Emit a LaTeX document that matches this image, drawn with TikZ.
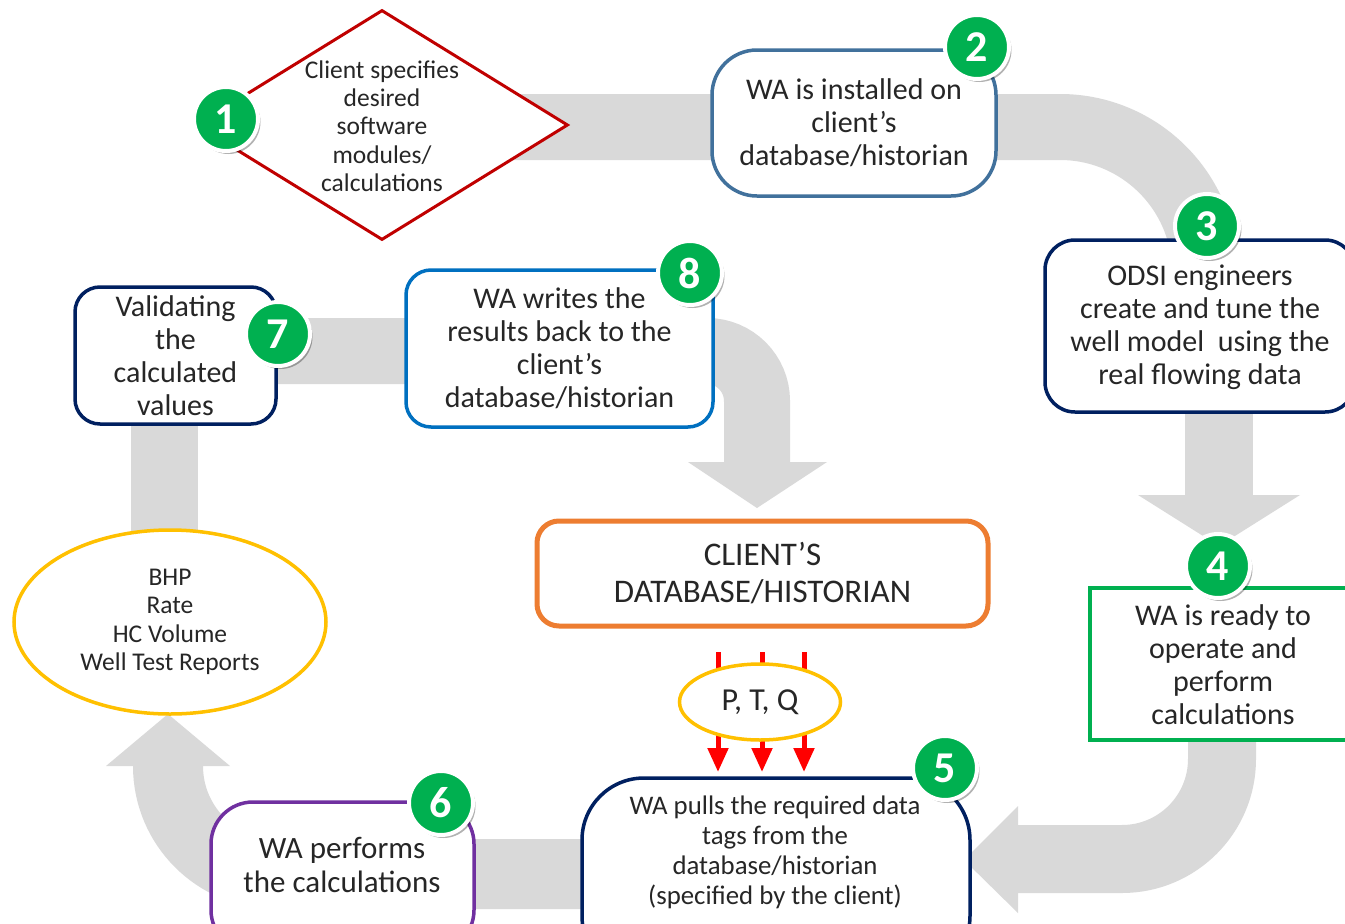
\documentclass[tikz,border=0pt]{standalone}
\usepackage{fontspec}
\setmainfont{Carlito}
\usetikzlibrary{arrows.meta,shapes.geometric,shadows}
\definecolor{bandgray}{HTML}{D9D9D9}
\definecolor{txt}{HTML}{262626}
\definecolor{badgegreen}{HTML}{00B050}
\definecolor{dred}{HTML}{C00000}
\definecolor{steel}{HTML}{41719C}
\definecolor{navy}{HTML}{002060}
\definecolor{boxgreen}{HTML}{00B050}
\definecolor{purp}{HTML}{7030A0}
\definecolor{bblue}{HTML}{0070C0}
\definecolor{orng}{HTML}{ED7D31}
\definecolor{gold}{HTML}{FFC000}
\definecolor{rred}{HTML}{FF0000}
\newcommand{\fsz}[2]{\fontsize{#1}{#2}\selectfont}
\begin{document}
\begin{tikzpicture}[x=1pt,y=-1pt,
  band/.style={draw=bandgray, line width=66pt},
  bandhead/.style={fill=bandgray},
  box/.style={fill=white, line width=3.5pt, align=center, text=txt, font=\fsz{30}{33}, inner sep=0pt},
  txtnode/.style={align=center, text=txt, inner sep=0pt},
  badge/.style={circle, fill=badgegreen, draw=white, line width=4pt, minimum size=64pt, inner sep=0pt,
    text=white, font=\bfseries\fsz{44}{44},
    drop shadow={shadow xshift=2.5pt, shadow yshift=-3pt, fill=black, opacity=0.3}},
  redarrow/.style={draw=rred, line width=5pt, -{Triangle[width=20pt,length=24pt]}}
]
\clip (0,0) rectangle (1345,924);
\fill[white] (0,0) rectangle (1345,924);

% ---------- gray flow bands ----------
\coordinate (b1s) at (450,127);
\coordinate (b1c) at (1205,127);
\coordinate (b1e) at (1205,300);
\draw[band, rounded corners=145pt] (b1s) -- (b1c) -- (b1e);

\coordinate (b2s) at (1219,400);
\coordinate (b2e) at (1219,497);
\draw[band, line width=68pt] (b2s) -- (b2e);
\fill[bandhead] (1138,495) -- (1300,495) -- (1219,546) -- cycle;

\coordinate (b3s) at (1222,700);
\coordinate (b3c) at (1222,859);
\coordinate (b3e) at (1016,859);
\draw[band, line width=68pt, rounded corners=100pt] (b3s) -- (b3c) -- (b3e);
\fill[bandhead] (1018,806) -- (1018,913) -- (964,860) -- cycle;

\coordinate (b4s) at (650,874);
\coordinate (b4c) at (168,874);
\coordinate (b4e) at (168,752);
\draw[band, line width=70pt, rounded corners=108pt] (b4s) -- (b4c) -- (b4e);
\fill[bandhead] (106,766) -- (230,766) -- (168,714) -- cycle;

\fill[bandgray] (131,400) rectangle (198,560);

\coordinate (b6s) at (250,351);
\coordinate (b6c) at (757,351);
\coordinate (b6e) at (757,465);
\draw[band, rounded corners=50pt] (b6s) -- (b6c) -- (b6e);
\fill[bandhead] (688,462) -- (827,462) -- (757,508) -- cycle;

% ---------- red arrows ----------
\coordinate (r1s) at (718,652); \coordinate (r1e) at (718,772);
\coordinate (r2s) at (762,652); \coordinate (r2e) at (762,772);
\coordinate (r3s) at (804,652); \coordinate (r3e) at (804,772);
\draw[redarrow] (r1s) -- (r1e);
\draw[redarrow] (r2s) -- (r2e);
\draw[redarrow] (r3s) -- (r3e);

% ---------- shapes ----------
\node[diamond, draw=dred, fill=white, line width=3pt, minimum width=372pt, minimum height=230pt, inner sep=0pt] (n1) at (382,125) {};
\node[txtnode, font=\fsz{25.5}{28.3}] (t1) at (382,126) {Client specifies\\desired\\software\\modules/\\calculations};

\node[box, draw=steel, minimum width=284pt, minimum height=146pt, rounded corners=45pt] (n2) at (854,123)
  {WA is installed on\\client’s\\database/historian};

\node[box, draw=navy, minimum width=310pt, minimum height=172pt, rounded corners=30pt, text width=300pt] (n3) at (1200,326) {};
\node[txtnode, font=\fsz{30}{33}] (t3) at (1200,327) {ODSI engineers\\create and tune the\\well model\ \ using the\\real flowing data};

\node[box, draw=boxgreen, minimum width=264pt, minimum height=152pt] (n4) at (1222,664) {};
\node[txtnode, font=\fsz{30}{33}] (t4) at (1223,665) {WA is ready to\\operate and\\perform\\calculations};

\node[box, draw=navy, minimum width=388pt, minimum height=200pt, rounded corners=62pt] (n5) at (776,878) {};
\node[txtnode, font=\fsz{26.8}{30}] (t5) at (775,852) {WA pulls the required data\\tags from the\\database/historian\\(specified by the client)};

\node[box, draw=purp, minimum width=263pt, minimum height=150pt, rounded corners=42pt] (n6) at (342.5,877) {};
\node[txtnode, font=\fsz{31}{34}] (t6) at (342,865) {WA performs\\the calculations};

\node[box, draw=navy, minimum width=201pt, minimum height=137pt, rounded corners=25pt] (n7) at (175.5,355.5)
  {Validating\\the\\calculated\\values};

\node[box, draw=bblue, minimum width=307pt, minimum height=157pt, rounded corners=25pt] (n8) at (559.5,348.5)
  {WA writes the\\results back to the\\client’s\\database/historian};

\node[box, draw=orng, line width=5pt, minimum width=451pt, minimum height=105pt, rounded corners=22pt, font=\fsz{33}{37}] (db) at (762.5,573.5)
  {CLIENT’S\\DATABASE/HISTORIAN};

\node[ellipse, draw=gold, fill=white, line width=3.5pt, minimum width=312pt, minimum height=184pt, inner sep=0pt, align=center, text=txt, font=\fsz{25.5}{28.5}] (bhp) at (170,622)
  {BHP\\Rate\\HC Volume\\Well Test Reports};

\node[ellipse, draw=gold, fill=white, line width=3.5pt, minimum width=161pt, minimum height=76pt, inner sep=0pt, text=txt, font=\fsz{32}{34}] (ptq) at (760,702) {P, T, Q};

% ---------- badges ----------
\node[badge] (g1) at (226,119) {1};
\node[badge] (g2) at (977,47) {2};
\node[badge] (g3) at (1207,226) {3};
\node[badge] (g4) at (1218,566) {4};
\node[badge] (g5) at (945,768) {5};
\node[badge] (g6) at (441,803) {6};
\node[badge] (g7) at (278,334) {7};
\node[badge] (g8) at (690,273) {8};
\end{tikzpicture}
\end{document}
